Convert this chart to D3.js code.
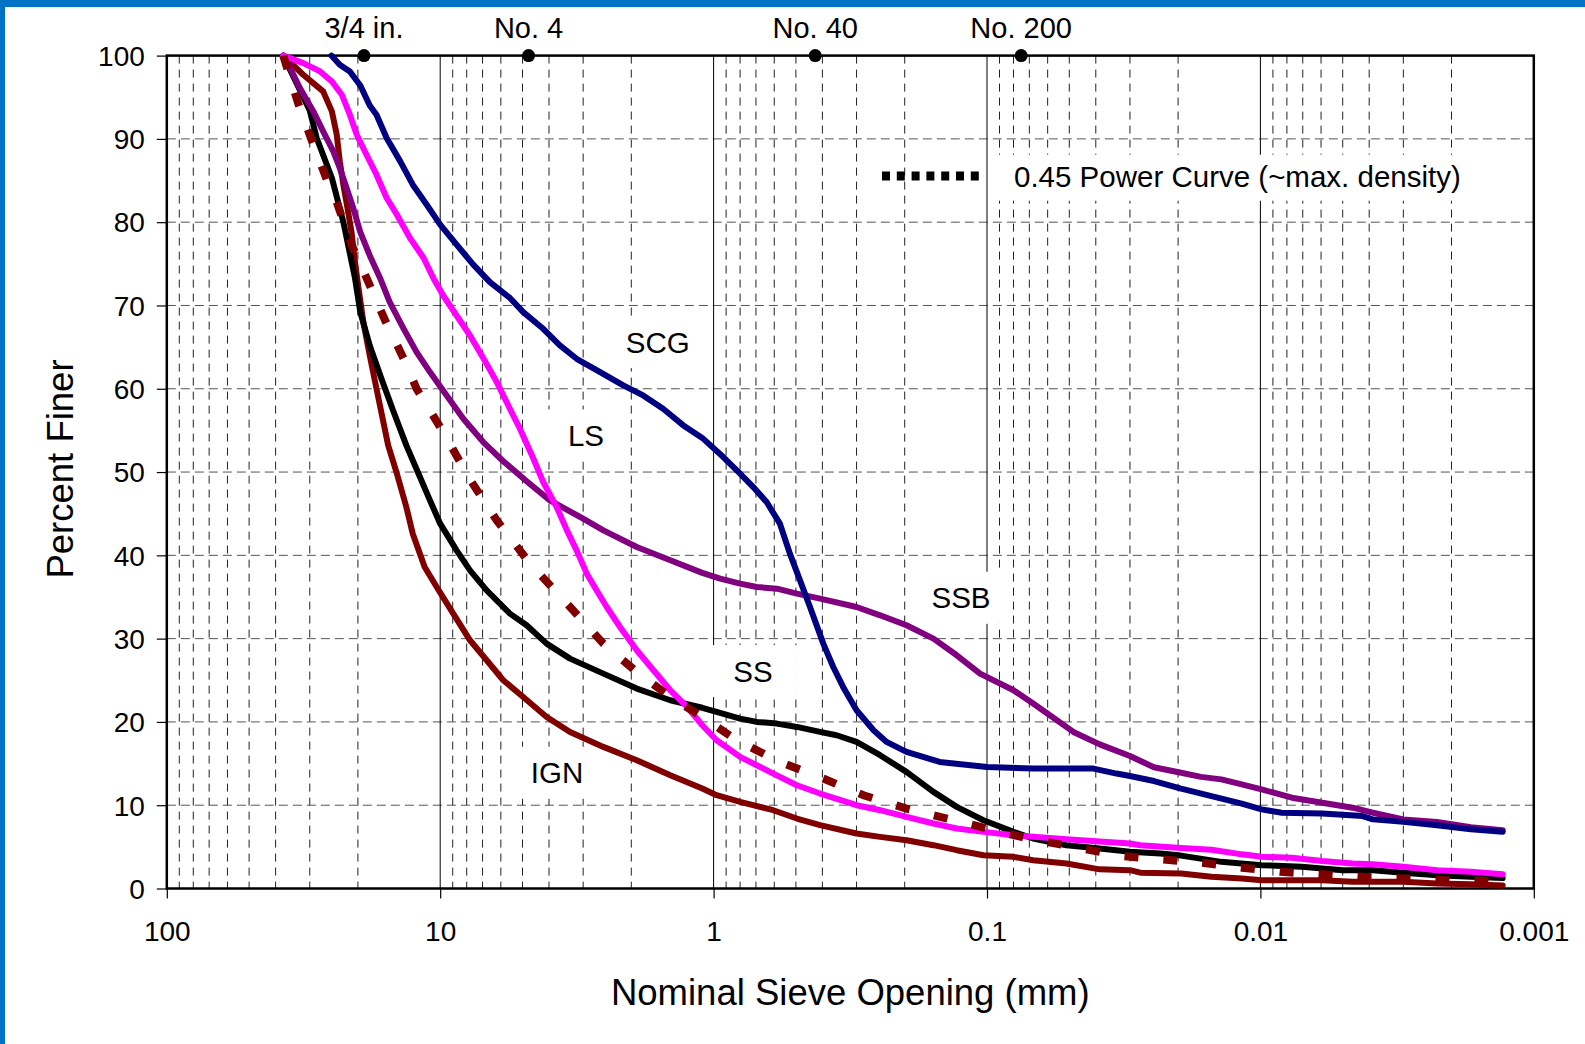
<!DOCTYPE html>
<html><head><meta charset="utf-8">
<script src="https://cdn.jsdelivr.net/npm/d3@7"></script>
<style>
html,body{margin:0;padding:0;background:#fff;}
svg{display:block;}
text{font-family:"Liberation Sans",Arial,Helvetica,sans-serif;fill:#000;}
</style></head>
<body>
<svg id="chart" width="1585" height="1044"></svg>
<script>
// ---------- data (size in mm, percent finer) ----------
const SCG = [[25,100],[23.3,98.9],[21.4,98.1],[19.6,96.4],[18.1,94.0],[17.1,92.9],[15.7,90.1],[14.0,87.3],[12.6,84.5],[11.2,82.1],[10.0,79.7],[8.71,77.3],[7.57,74.9],[6.58,72.8],[5.56,70.9],[4.97,69.2],[4.20,67.2],[3.65,65.2],[3.17,63.6],[2.60,62.0],[2.14,60.4],[1.81,59.2],[1.53,57.6],[1.29,55.6],[1.1,54.1],[0.922,51.8],[0.80,49.8],[0.716,48.2],[0.64,46.4],[0.572,43.8],[0.526,40.2],[0.483,37.0],[0.444,33.8],[0.397,29.4],[0.365,26.6],[0.336,24.2],[0.30,21.4],[0.26,19.0],[0.233,17.6],[0.197,16.4],[0.149,15.2],[0.1,14.6],[0.0678,14.4],[0.0408,14.4],[0.0336,13.8],[0.030,13.5],[0.0245,12.9],[0.0195,12.0],[0.0151,11.1],[0.0117,10.2],[0.0099,9.5],[0.00836,9.1],[0.00594,9.0],[0.00423,8.7],[0.00388,8.3],[0.0030,8.0],[0.00226,7.6],[0.0017,7.1],[0.0013,6.8]];
const LS = [[37.5,100],[31.7,99.1],[27.5,98.1],[24.9,96.9],[22.9,95.3],[21.4,92.9],[20.2,90.5],[18.6,88.1],[17.1,85.7],[15.7,82.9],[14.4,80.9],[12.9,78.1],[11.5,75.7],[10.6,73.3],[9.75,71.2],[8.71,68.8],[7.78,66.4],[6.96,63.7],[6.21,60.8],[5.56,57.6],[5.11,55.2],[4.56,51.6],[4.20,48.8],[3.75,45.8],[3.44,43.0],[3.17,40.6],[2.91,37.8],[2.68,35.8],[2.46,33.8],[2.20,31.4],[1.91,28.6],[1.66,26.2],[1.44,23.8],[1.25,21.8],[1.1,19.6],[0.975,17.8],[0.80,15.8],[0.605,13.8],[0.496,12.4],[0.408,11.4],[0.30,10.0],[0.246,9.4],[0.197,8.6],[0.157,7.8],[0.129,7.2],[0.103,6.8],[0.080,6.4],[0.0678,6.2],[0.0512,5.9],[0.0387,5.65],[0.030,5.4],[0.0275,5.2],[0.0195,4.85],[0.0151,4.65],[0.0117,4.1],[0.0099,3.8],[0.00767,3.7],[0.00594,3.3],[0.0046,3.0],[0.00388,2.9],[0.0030,2.6],[0.00226,2.2],[0.0017,2.0],[0.0013,1.7]];
const SSB = [[37.5,100],[35.4,98.5],[32.6,96.1],[29.1,93.3],[26.8,90.9],[24.6,88.5],[23.3,86.5],[22.0,84.1],[20.8,81.7],[19.6,78.8],[18.1,76.0],[16.6,73.3],[15.3,70.4],[13.6,67.2],[12.2,64.4],[10.9,62.0],[9.47,59.2],[8.23,56.4],[6.96,53.6],[5.88,51.3],[4.83,48.9],[3.97,46.6],[3.0,44.4],[2.53,43.0],[1.91,41.0],[1.44,39.4],[1.1,37.9],[0.946,37.2],[0.80,36.6],[0.695,36.2],[0.587,36.0],[0.496,35.4],[0.408,34.8],[0.30,33.8],[0.246,32.8],[0.197,31.6],[0.157,30.0],[0.129,28.0],[0.106,25.8],[0.080,23.8],[0.0678,22.2],[0.0589,20.8],[0.0483,18.8],[0.0387,17.3],[0.030,15.9],[0.0245,14.55],[0.0195,13.9],[0.0165,13.4],[0.0139,13.1],[0.0117,12.5],[0.0099,11.9],[0.00767,10.9],[0.00594,10.3],[0.0046,9.7],[0.00388,9.1],[0.0030,8.3],[0.00226,8.0],[0.0017,7.35],[0.0013,7.0]];
const SS = [[37.5,100],[30,93.4],[28.3,90.1],[24.9,85.3],[22.6,80.0],[20.5,73.3],[19.6,69.2],[18.1,65.2],[16.4,61.2],[14.8,57.2],[13.3,53.2],[12.0,49.8],[10.9,46.6],[10.0,43.8],[8.71,40.6],[7.78,38.2],[6.76,35.8],[5.56,33.0],[4.83,31.6],[4.08,29.4],[3.35,27.6],[2.53,25.8],[1.91,24.0],[1.44,22.6],[1.1,21.7],[0.975,21.2],[0.80,20.4],[0.695,20.0],[0.587,19.8],[0.496,19.4],[0.408,18.8],[0.355,18.4],[0.30,17.6],[0.246,16.0],[0.197,14.0],[0.157,11.6],[0.129,9.8],[0.103,8.2],[0.080,6.8],[0.0678,6.0],[0.0512,5.2],[0.0387,4.8],[0.030,4.4],[0.0232,4.2],[0.0195,3.95],[0.0139,3.2],[0.0099,2.8],[0.00705,2.6],[0.0050,2.2],[0.00388,2.2],[0.0030,1.9],[0.00226,1.6],[0.0017,1.4],[0.0013,1.25]];
const IGN = [[37.5,100],[31.7,97.7],[26.8,95.7],[24.9,93.3],[23.9,90.5],[23.3,87.3],[22.6,84.5],[21.7,81.2],[21.1,78.8],[20.5,75.2],[19.9,72.1],[19.1,68.0],[18.1,64.0],[17.1,60.0],[15.5,53.2],[14.4,49.8],[13.3,45.8],[12.6,42.6],[11.4,38.6],[10.3,36.2],[8.96,33.0],[7.78,29.8],[6.76,27.4],[5.88,25.0],[4.97,23.0],[4.08,20.6],[3.35,18.8],[2.53,17.0],[1.91,15.4],[1.44,13.6],[1.1,12.0],[0.975,11.2],[0.80,10.4],[0.605,9.4],[0.496,8.4],[0.408,7.6],[0.30,6.6],[0.246,6.2],[0.197,5.8],[0.157,5.2],[0.129,4.6],[0.103,4.0],[0.080,3.8],[0.0678,3.4],[0.0512,3.0],[0.0387,2.3],[0.030,2.2],[0.0275,1.9],[0.0195,1.8],[0.0151,1.4],[0.0117,1.2],[0.0099,1.0],[0.00594,1.0],[0.0046,0.8],[0.0030,0.8],[0.00226,0.6],[0.0017,0.5],[0.0013,0.35]];
const POWER45 = [[37.5,100],[33.1,94.3],[29.1,89.3],[25.3,84.1],[23.9,82.4],[21.1,77.3],[18.6,73.3],[15.9,68.2],[13.6,63.6],[12.2,60.0],[9.75,54.8],[7.78,49.1],[6.21,44.2],[4.69,39.0],[3.35,33.8],[2.53,29.4],[1.91,26.0],[1.44,23.0],[1.1,20.6],[0.823,17.8],[0.572,15.2],[0.397,13.2],[0.283,11.2],[0.197,9.6],[0.140,8.4],[0.1,7.2],[0.0706,6.0],[0.0483,5.0],[0.0321,3.9],[0.0232,3.5],[0.0165,3.1],[0.0117,2.5],[0.00848,2.0],[0.00594,1.7],[0.00423,1.4],[0.0030,1.2],[0.00208,1.0],[0.0013,0.85]];

const xTicks = [100, 10, 1, 0.1, 0.01, 0.001];
const xTickLabels = ["100", "10", "1", "0.1", "0.01", "0.001"];
const yTicks = [0, 10, 20, 30, 40, 50, 60, 70, 80, 90, 100];
const sieveNames = ["3/4 in.", "No. 4", "No. 40", "No. 200"];
const sieveSizes = [19, 4.75, 0.425, 0.075];
const curveNames = ["SCG", "LS", "SSB", "SS", "IGN"];
const labelSizes = [1.6, 2.93, 0.1245, 0.718, 3.74];
const labelPcts = [65.6, 54.4, 34.9, 26.1, 13.9];
const legendLabel = "0.45 Power Curve (~max. density)";

// ---------- layout ----------
const L = 166.8, R = 1533.8, T = 55.6, B = 888.5;
const svg = d3.select("#chart");
const x = d3.scaleLog().domain([100, 0.001]).range([L, R]);
const y = d3.scaleLinear().domain([0, 100]).range([B, T]);

// blue frame
svg.append("rect").attr("x",0).attr("y",0).attr("width",1585).attr("height",7).attr("fill","#0073C5");
svg.append("rect").attr("x",0).attr("y",0).attr("width",5).attr("height",1044).attr("fill","#0073C5");

const grid = svg.append("g");
const minors = [];
for (let e = 2; e >= -3; e--) for (let m = 2; m <= 9; m++) {
  const v = m * Math.pow(10, e - 1);
  if (v < 100 && v > 0.001) minors.push(v);
}
grid.selectAll("line.minor").data(minors).join("line")
  .attr("x1", d => x(d)).attr("x2", d => x(d)).attr("y1", T).attr("y2", B)
  .attr("stroke", "#222").attr("stroke-width", 1).attr("stroke-dasharray", "8,6");
grid.selectAll("line.h").data(yTicks.slice(1, -1)).join("line")
  .attr("x1", L).attr("x2", R).attr("y1", d => y(d)).attr("y2", d => y(d))
  .attr("stroke", "#555").attr("stroke-width", 1).attr("stroke-dasharray", "9,5");
grid.selectAll("line.dec").data(xTicks.slice(1, -1)).join("line")
  .attr("x1", d => x(d)).attr("x2", d => x(d)).attr("y1", T).attr("y2", B)
  .attr("stroke", "#000").attr("stroke-width", 1);

// white text boxes behind labels / legend
const boxes = svg.append("g");
boxes.selectAll("rect").data(curveNames).join("rect")
  .attr("x", (d, i) => x(labelSizes[i]) - 44).attr("y", (d, i) => y(labelPcts[i]) - 26)
  .attr("width", 88).attr("height", 52).attr("fill", "#fff");
boxes.append("rect").attr("x", x(0.097)).attr("y", y(88.1)).attr("width", 478).attr("height", 46).attr("fill", "#fff");

// axes
const xAxis = d3.axisBottom(x).tickValues(xTicks).tickFormat((d, i) => xTickLabels[i]).tickSize(10).tickSizeOuter(0);
const gx = svg.append("g").attr("transform", `translate(0,${B})`).call(xAxis);
gx.select(".domain").remove();
gx.selectAll(".tick line").attr("stroke", "#000").attr("stroke-width", 1.2);
gx.selectAll(".tick text").attr("font-size", 28).attr("y", 0).attr("dy", 52.5)
  .style("font-family", '"Liberation Sans",Arial,sans-serif');

const yAxis = d3.axisLeft(y).tickValues(yTicks).tickSize(10).tickSizeOuter(0);
const gy = svg.append("g").attr("transform", `translate(${L},0)`).call(yAxis);
gy.select(".domain").remove();
gy.selectAll(".tick line").attr("stroke", "#000").attr("stroke-width", 1.2);
gy.selectAll(".tick text").attr("font-size", 28).attr("x", -22).attr("dy", "0.35em")
  .style("font-family", '"Liberation Sans",Arial,sans-serif');

svg.append("rect").attr("x", L).attr("y", T).attr("width", R - L).attr("height", B - T)
  .attr("fill", "none").attr("stroke", "#000").attr("stroke-width", 2.5);

// curves
const line = d3.line().x(d => x(d[0])).y(d => y(d[1]));
const series = [
  {data: IGN, color: "#800000"},
  {data: SS, color: "#000000"},
  {data: SSB, color: "#800080"},
  {data: LS, color: "#FF00FF"},
  {data: SCG, color: "#000080"}
];
const gCurves = svg.append("g");
gCurves.selectAll("path.s").data(series).join("path")
  .attr("d", d => line(d.data)).attr("fill", "none").attr("stroke", d => d.color)
  .attr("stroke-width", 6).attr("stroke-linejoin", "round").attr("stroke-linecap", "round");
gCurves.append("path").attr("d", line(POWER45)).attr("fill", "none").attr("stroke", "#800000")
  .attr("stroke-width", 8).attr("stroke-dasharray", "14,25");

// curve labels
svg.append("g").selectAll("text").data(curveNames).join("text")
  .attr("x", (d, i) => x(labelSizes[i])).attr("y", (d, i) => y(labelPcts[i]))
  .attr("dy", "0.36em").attr("text-anchor", "middle").attr("font-size", 29.5).text(d => d);

// legend
svg.append("line").attr("x1", 882).attr("x2", 983).attr("y1", 176).attr("y2", 176)
  .attr("stroke", "#000").attr("stroke-width", 9).attr("stroke-dasharray", "8,6.8");
svg.append("text").attr("x", 1014).attr("y", 176).attr("dy", "0.36em").attr("font-size", 29.5).text(legendLabel);

// sieve markers
const gs = svg.append("g");
gs.selectAll("circle").data(sieveSizes).join("circle")
  .attr("cx", d => x(d)).attr("cy", T).attr("r", 6.5).attr("fill", "#000");
gs.selectAll("text").data(sieveNames).join("text")
  .attr("x", (d, i) => x(sieveSizes[i])).attr("y", 37.5).attr("text-anchor", "middle")
  .attr("font-size", 29).text(d => d);

// axis titles
svg.append("text").attr("x", (L + R) / 2).attr("y", 1005).attr("text-anchor", "middle")
  .attr("font-size", 36.5).text("Nominal Sieve Opening (mm)");
svg.append("text").attr("transform", "translate(73,469) rotate(-90)").attr("text-anchor", "middle")
  .attr("font-size", 36.5).text("Percent Finer");
</script>
</body></html>
